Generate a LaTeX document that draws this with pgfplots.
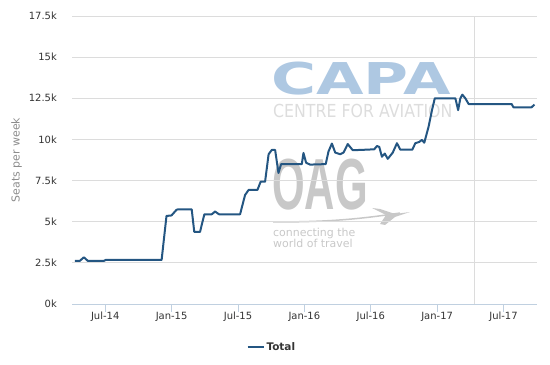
\documentclass[border=0pt]{standalone}
\usepackage{pgfplots}
\pgfplotsset{compat=1.18}
\usepackage{fontspec}
\setmainfont{DejaVu Sans}
\newfontfamily\libsans{Liberation Sans}
\definecolor{linec}{HTML}{245682}
\definecolor{gridc}{HTML}{DCDCDC}
\definecolor{axisc}{HTML}{C0D0E0}
\definecolor{ticktext}{HTML}{333333}
\definecolor{labelc}{HTML}{8C8C8C}
\definecolor{capablue}{HTML}{AEC8E2}
\definecolor{wmgray}{HTML}{C8C8C8}
\definecolor{wmlight}{HTML}{DDDDDD}
\begin{document}
\begin{tikzpicture}
\path[use as bounding box] (0bp,0bp) rectangle (550bp,365bp);
% watermark
\node[anchor=base west, inner sep=0pt, font=\fontsize{44}{44}\selectfont\bfseries, text=capablue, xscale=1.4] at (271bp,270bp) {CAPA};
\node[anchor=base west, inner sep=0pt, font=\fontsize{18}{18}\selectfont, text=wmlight, xscale=0.88] at (273bp,247bp) {CENTRE FOR AVIATION};
\node[anchor=base west, inner sep=0pt, font=\libsans\bfseries\fontsize{72.6}{72.6}\selectfont, text=wmgray, xscale=0.58] at (272bp,155bp) {OAG};
\draw[wmgray, line width=1.5bp] (273bp,143bp) .. controls (330bp,143bp) and (360bp,146bp) .. (400bp,152bp);
\fill[wmgray] (372bp,157bp) -- (380bp,156bp) -- (395bp,151bp) -- (410bp,153bp) -- (395bp,148bp) -- (385bp,140bp) -- (380bp,141bp) -- (386bp,150bp) -- cycle;
\node[anchor=base west, inner sep=0pt, font=\fontsize{11}{12}\selectfont, text=wmgray, align=left] at (273bp,128bp) {connecting the};
\node[anchor=base west, inner sep=0pt, font=\fontsize{11}{12}\selectfont, text=wmgray, align=left] at (273bp,117bp) {world of travel};
\begin{axis}[
  at={(72bp,61bp)}, anchor=south west,
  width=464.7bp, height=288bp, scale only axis,
  xmin=3, xmax=45, ymin=0, ymax=17.5,
  separate axis lines,
  axis x line*=bottom, axis y line*=left,
  x axis line style={draw=axisc, line width=0.8bp, -},
  y axis line style={draw=none},
  ytick={0,2.5,5,7.5,10,12.5,15,17.5},
  yticklabels={0k,2.5k,5k,7.5k,10k,12.5k,15k,17.5k},
  xtick={6,12,18,24,30,36,42},
  xticklabels={Jul-14,Jan-15,Jul-15,Jan-16,Jul-16,Jan-17,Jul-17},
  ymajorgrids, grid style={draw=gridc, line width=0.8bp},
  ytick style={draw=none},
  xtick style={draw=axisc, line width=0.8bp},
  tick align=outside, major tick length=8bp,
  yticklabel style={font=\fontsize{10}{10}\selectfont, text=ticktext, inner sep=0pt, xshift=-7bp},
  xticklabel style={font=\fontsize{10}{10}\selectfont, text=ticktext, inner sep=0pt, anchor=north},
  ylabel={Seats per week},
  ylabel style={at={(axis description cs:-0.119,0.5)}, anchor=center, font=\fontsize{11}{11}\selectfont, text=labelc},
  legend style={at={(axis description cs:0.43,-0.149)}, anchor=center, draw=none, fill=none, font=\fontsize{10.5}{11}\selectfont\bfseries, text=ticktext},
  legend image code/.code={\draw[#1] (0bp,0bp) -- (16bp,0bp);},
  clip=false,
]
\addplot[draw=gridc, line width=0.8bp, forget plot] coordinates {(39.37,0) (39.37,17.5)};
\addplot[linec, line width=2bp, line join=round, mark=none] coordinates {
(3.26,2.62)(3.71,2.62)(4.07,2.84)(4.43,2.62)(5.88,2.62)(6.06,2.68)(11.1,2.68)(11.54,5.35)(11.99,5.38)(12.44,5.72)(12.58,5.75)(13.82,5.75)(14.05,4.38)(14.57,4.38)(14.96,5.45)(15.63,5.45)(15.93,5.62)(16.29,5.45)(18.19,5.45)(18.64,6.62)(18.96,6.93)(19.76,6.93)(20.05,7.43)(20.45,7.43)(20.77,9.1)(21.06,9.36)(21.36,9.36)(21.66,7.96)(21.9,8.5)(23.77,8.5)(23.92,9.18)(24.16,8.58)(24.52,8.47)(25.93,8.5)(26.18,9.26)(26.49,9.75)(26.79,9.2)(27.24,9.1)(27.54,9.2)(27.92,9.72)(28.37,9.35)(29.05,9.36)(30.32,9.4)(30.56,9.6)(30.77,9.55)(31.01,8.95)(31.27,9.14)(31.54,8.82)(31.99,9.2)(32.37,9.77)(32.67,9.38)(33.76,9.38)(34.03,9.77)(34.39,9.85)(34.62,9.97)(34.84,9.8)(35.23,10.78)(35.54,11.79)(35.79,12.5)(37.65,12.5)(37.9,11.78)(38.1,12.5)(38.28,12.72)(38.55,12.5)(38.85,12.15)(42.74,12.15)(42.9,11.95)(44.53,11.95)(44.8,12.12)
};
\addlegendentry{Total}
\end{axis}
\end{tikzpicture}
\end{document}
